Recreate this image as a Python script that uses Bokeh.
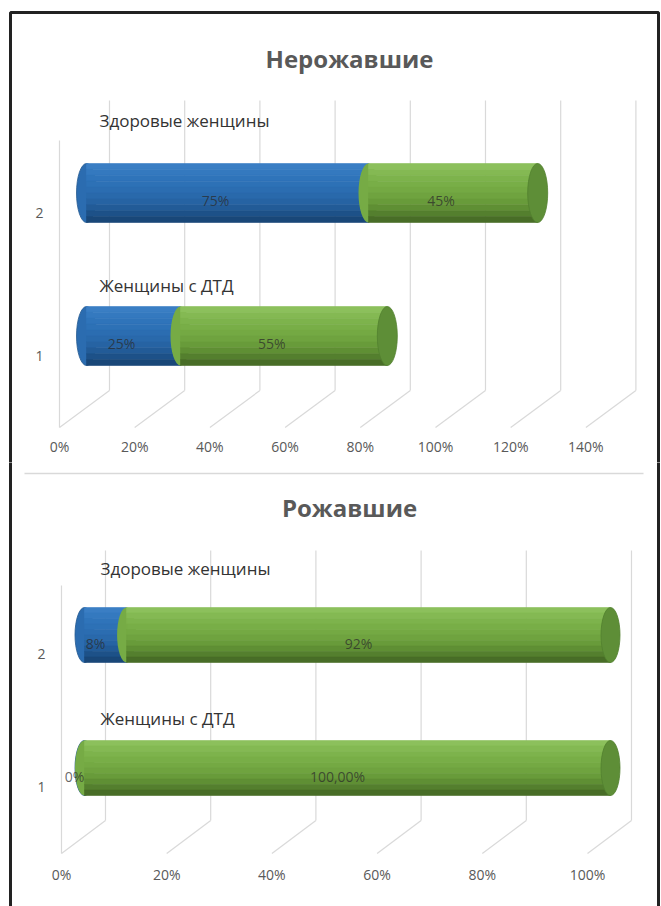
from bokeh.plotting import figure
from bokeh.models import Range1d, LinearAxis, FixedTicker, BoxAnnotation
from bokeh.layouts import column
from bokeh.embed import file_html
from bokeh.resources import INLINE
from bokeh.core.properties import value

# ---------------- data ----------------
categories = [1, 2]
category_labels = ["1", "2"]
series_names = ["Женщины с ДТД", "Здоровые женщины"]

nullip_title = "Нерожавшие"
nullip_blue = [25, 75]
nullip_green = [55, 45]
nullip_blue_labels = ["25%", "75%"]
nullip_green_labels = ["55%", "45%"]
nullip_ticks = [0, 20, 40, 60, 80, 100, 120, 140]
nullip_tick_labels = ["0%", "20%", "40%", "60%", "80%", "100%", "120%", "140%"]

parous_title = "Рожавшие"
parous_blue = [0, 8]
parous_green = [100, 92]
parous_blue_labels = ["0%", "8%"]
parous_green_labels = ["100,00%", "92%"]
parous_ticks = [0, 20, 40, 60, 80, 100]
parous_tick_labels = ["0%", "20%", "40%", "60%", "80%", "100%"]

# ---------------- style ----------------
FONT = "Open Sans"
GRID = "#d9d9d9"
BLUE_GRAD = ["#3a7ec4", "#3479bf", "#2f74ba", "#2d71b6", "#2b6db1",
             "#2969ab", "#2663a3", "#225b97", "#1d5188", "#194778"]
GREEN_GRAD = ["#8cc05c", "#84b953", "#7db34c", "#78ae47", "#74a943",
              "#6fa33f", "#689b3a", "#5f8f34", "#547f2e", "#486d27"]
BLUE_MID = "#2b6cb0"
GREEN_MID = "#76ab45"
GREEN_CAP = "#5e8e37"

# pixel geometry of each panel (layout only)
GEO_TOP = dict(H=462, x0=59, ppx=3.76, y1=355, ppy=143, depth_x=50, depth_y=37,
               bar_dx=27, bar_dy=19.5, bar_h=59, cap_w=20, floor=427, wall_top=100,
               side_top=140, title_x=349, title_y=58, names_x=99, names_y=[285, 120],
               lbl_dx=-12, lbl_dy=7, border_top=12, separator=None, x_standoff=9)
GEO_BOT = dict(H=444, x0=61, ppx=5.26, y1=324, ppy=133, depth_x=44, depth_y=33,
               bar_dx=23, bar_dy=18.5, bar_h=55, cap_w=19, floor=391, wall_top=88,
               side_top=123, title_x=349, title_y=45, names_x=100, names_y=[256, 106],
               lbl_dx=-10, lbl_dy=8, border_top=None, separator=(24, 643, 11), x_standoff=11)


def strips(p, lefts, rights, cys, h, colors):
    n = len(colors)
    for i, col in enumerate(colors):
        off = h / 2 - (i + 0.5) * h / n
        p.hbar(y=[c + off for c in cys], left=lefts, right=rights, height=h / n,
               fill_color=col, line_color=col, line_width=0.6)


def build(title, blue, green, blue_lbl, green_lbl, ticks, tick_lbls, g):
    ppx, ppy = g["ppx"], g["ppy"]

    def xd(px):
        return (px - g["x0"]) / ppx

    def yd(py):
        return 1 + (g["y1"] - py) / ppy

    p = figure(width=661, height=g["H"], x_range=Range1d(xd(0), xd(661)),
               y_range=Range1d(yd(g["H"]), yd(0)), output_backend="svg",
               toolbar_location=None, min_border=0, x_axis_type=None, y_axis_type=None,
               outline_line_color=None, background_fill_color="white",
               border_fill_color="white")

    yf = yd(g["floor"])
    yb = yd(g["floor"] - g["depth_y"])
    dxb = g["depth_x"] / ppx
    n = len(ticks)
    # back wall verticals
    p.segment(x0=[t + dxb for t in ticks], y0=[yb] * n, x1=[t + dxb for t in ticks],
              y1=[yd(g["wall_top"])] * n, line_color=GRID, line_width=1.2)
    # floor diagonals
    p.segment(x0=[t + dxb for t in ticks], y0=[yb] * n, x1=ticks, y1=[yf] * n,
              line_color=GRID, line_width=1.2)
    # side wall front edge
    p.segment(x0=[ticks[0]], y0=[yf], x1=[ticks[0]], y1=[yd(g["side_top"])],
              line_color=GRID, line_width=1.2)

    # cylinders
    bx = g["bar_dx"] / ppx
    cy = [c + g["bar_dy"] / ppy for c in categories]
    h = g["bar_h"] / ppy
    capw = g["cap_w"] / ppx
    left_b = [bx] * len(categories)
    right_b = [bx + b for b in blue]
    right_g = [bx + b + gr for b, gr in zip(blue, green)]

    p.ellipse(x=left_b, y=cy, width=capw, height=h, fill_color=BLUE_MID, line_color="#24598f",
              line_width=0.8)
    strips(p, left_b, right_b, cy, h, BLUE_GRAD)
    p.ellipse(x=right_b, y=cy, width=capw, height=h, fill_color=GREEN_MID, line_color=None)
    strips(p, right_b, right_g, cy, h, GREEN_GRAD)
    p.ellipse(x=right_g, y=cy, width=capw, height=h, fill_color=GREEN_CAP, line_color="#52802e",
              line_width=0.8)

    # data labels
    lab_kw = dict(text_align="center", text_baseline="middle", text_font=value(FONT),
                  text_font_size=value("14px"), text_color="#2a2a2a", text_alpha=0.72,
                  x_offset=g["lbl_dx"], y_offset=g["lbl_dy"])
    p.text(x=[bx + b / 2 for b in blue], y=cy, text=blue_lbl, **lab_kw)
    p.text(x=[bx + b + gr / 2 for b, gr in zip(blue, green)], y=cy, text=green_lbl, **lab_kw)

    # series names
    p.text(x=[xd(g["names_x"])] * len(series_names), y=[yd(v) for v in g["names_y"]],
           text=series_names, text_align="left", text_baseline="middle",
           text_font=value(FONT), text_font_size=value("17px"), text_color="#333333")

    # title
    p.text(x=[xd(g["title_x"])], y=[yd(g["title_y"])], text=[title], text_align="center",
           text_baseline="middle", text_font=value(FONT), text_font_size=value("24px"),
           text_font_style="bold", text_color="#595959")

    # axes (drawn on the front edge of the 3-D floor)
    xax = LinearAxis(ticker=FixedTicker(ticks=ticks), fixed_location=yf,
                     major_label_overrides={t: l for t, l in zip(ticks, tick_lbls)},
                     axis_line_color=None, major_tick_line_color=None,
                     minor_tick_line_color=None, major_tick_in=0, major_tick_out=0,
                     minor_tick_in=0, minor_tick_out=0,
                     major_label_standoff=g["x_standoff"],
                     major_label_text_font=FONT, major_label_text_font_size="14px",
                     major_label_text_color="#595959")
    p.add_layout(xax, "below")
    yax = LinearAxis(ticker=FixedTicker(ticks=categories), fixed_location=ticks[0],
                     major_label_overrides={c: l for c, l in zip(categories, category_labels)},
                     axis_line_color=None, major_tick_line_color=None,
                     minor_tick_line_color=None, major_tick_in=0, major_tick_out=0,
                     minor_tick_in=0, minor_tick_out=0, major_label_standoff=16,
                     major_label_text_font=FONT, major_label_text_font_size="14px",
                     major_label_text_color="#595959")
    p.add_layout(yax, "left")

    # separator
    if g["separator"] is not None:
        sx0, sx1, sy = g["separator"]
        p.segment(x0=[xd(sx0)], y0=[yd(sy)], x1=[xd(sx1)], y1=[yd(sy)],
                  line_color=GRID, line_width=1.5)

    # outer frame
    top = yd(g["border_top"]) if g["border_top"] is not None else yd(-50)
    p.add_layout(BoxAnnotation(left=xd(10), right=xd(658), top=top, bottom=yd(g["H"] + 50),
                               fill_alpha=0, fill_color=None, line_color="#222222",
                               line_alpha=1, line_width=3))
    return p


p1 = build(nullip_title, nullip_blue, nullip_green, nullip_blue_labels, nullip_green_labels,
           nullip_ticks, nullip_tick_labels, GEO_TOP)
p2 = build(parous_title, parous_blue, parous_green, parous_blue_labels, parous_green_labels,
           parous_ticks, parous_tick_labels, GEO_BOT)

layout = column(p1, p2, spacing=0)
open("out.html", "w").write(file_html(layout, INLINE))
